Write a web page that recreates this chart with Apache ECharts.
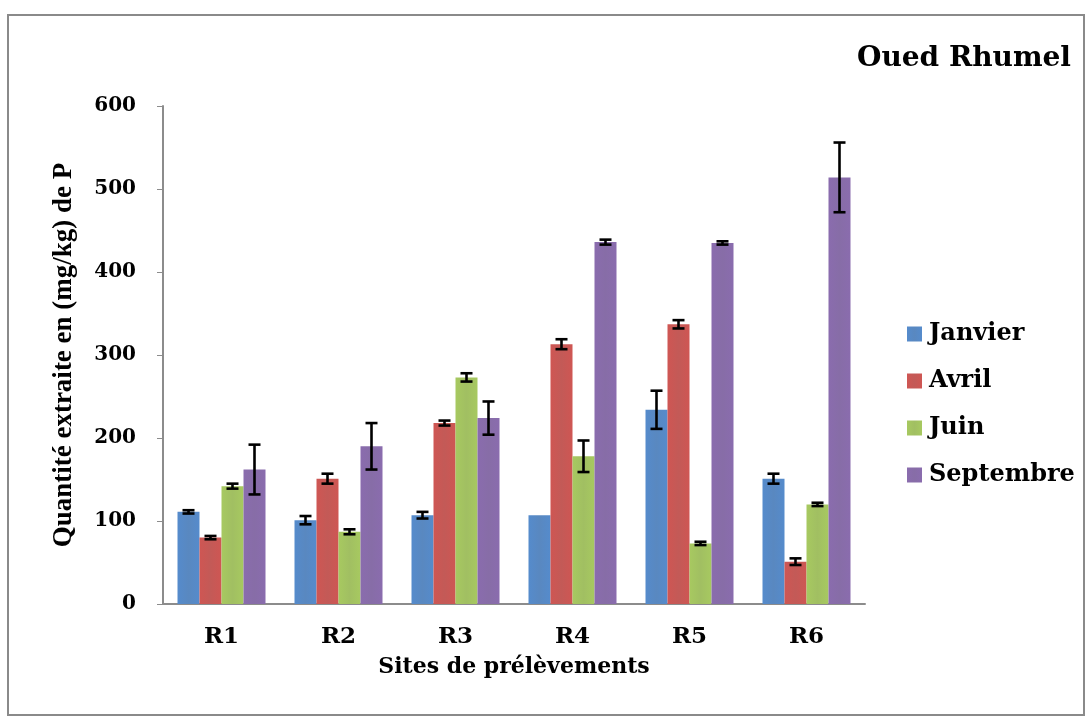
<!DOCTYPE html>
<html>
<head>
<meta charset="utf-8">
<script src="https://cdn.jsdelivr.net/npm/echarts@6/dist/echarts.min.js"></script>
<style>
  html, body { margin: 0; padding: 0; background: #ffffff; }
  #frame { position: absolute; left: 7px; top: 14px; width: 1078px; height: 702px;
           border: 2px solid #8a8a8a; box-sizing: border-box; background: #fff; }
  #chart { position: absolute; left: 0; top: 0; width: 1085px; height: 718px; }
</style>
</head>
<body>
<div id="frame"></div>
<div id="chart"></div>
<script>
// Sites and months
const categories = ['R1', 'R2', 'R3', 'R4', 'R5', 'R6'];
const seriesNames = ['Janvier', 'Avril', 'Juin', 'Septembre'];

// Extracted phosphorus (mg/kg) per site and month
const janvier   = [111, 101, 107, 107, 234, 151];
const avril     = [80, 151, 218, 313, 337, 51];
const juin      = [142, 87, 273, 178, 73, 120];
const septembre = [162, 190, 224, 436, 435, 514];

// Standard deviations
const janvierErr   = [2, 5, 4, 0, 23, 6];
const avrilErr     = [2, 6, 3, 6, 5, 4];
const juinErr      = [3, 3, 5, 19, 2, 2];
const septembreErr = [30, 28, 20, 3, 2, 42];

const yTicks = { min: 0, max: 600, interval: 100 };

const colors = ['#4F81BD', '#C0504D', '#9BBB59', '#8064A2'];
const values = [janvier, avril, juin, septembre];
const errors = [janvierErr, avrilErr, juinErr, septembreErr];

const BAR_W = 22;
const FONT = '"DejaVu Serif", "Liberation Serif", serif';
const FONT_NARROW = '"Liberation Serif", "DejaVu Serif", serif';

function shade(c) {
  return new echarts.graphic.LinearGradient(0, 0, 1, 0, [
    { offset: 0, color: echarts.color.lift(c, -0.08) },
    { offset: 0.5, color: echarts.color.lift(c, 0.06) },
    { offset: 1, color: echarts.color.lift(c, -0.08) }
  ]);
}

const barSeries = seriesNames.map((name, i) => ({
  name: name,
  type: 'bar',
  barWidth: BAR_W,
  barGap: '0%',
  itemStyle: { color: shade(colors[i]) },
  data: values[i],
  z: 2
}));

const errSeries = seriesNames.map((name, i) => ({
  type: 'custom',
  name: name + ' σ',
  z: 5,
  silent: true,
  data: values[i].map((v, k) => [k, v, errors[i][k]]),
  encode: { x: 0, y: 1 },
  renderItem: function (params, api) {
    const k = api.value(0), v = api.value(1), e = api.value(2);
    if (!e) return null;
    const top = api.coord([k, v + e]);
    const bot = api.coord([k, v - e]);
    const x = top[0] + (i - 1.5) * BAR_W;
    const cap = 6;
    const st = { stroke: '#000', lineWidth: 2.6 };
    return {
      type: 'group',
      children: [
        { type: 'line', shape: { x1: x, y1: top[1], x2: x, y2: bot[1] }, style: st },
        { type: 'line', shape: { x1: x - cap, y1: top[1], x2: x + cap, y2: top[1] }, style: st },
        { type: 'line', shape: { x1: x - cap, y1: bot[1], x2: x + cap, y2: bot[1] }, style: st }
      ]
    };
  }
}));

const chart = echarts.init(document.getElementById('chart'), null, { renderer: 'canvas' });
chart.setOption({
  animation: false,
  backgroundColor: 'transparent',
  title: {
    text: 'Oued Rhumel',
    right: 9,
    top: 40,
    textStyle: { fontFamily: FONT, fontWeight: 'bold', fontSize: 28, color: '#000' }
  },
  legend: {
    data: seriesNames,
    orient: 'vertical',
    left: 902,
    top: 317,
    itemWidth: 15,
    itemHeight: 15,
    itemGap: 23,
    icon: 'rect',
    textStyle: { fontFamily: FONT, fontWeight: 'bold', fontSize: 24, color: '#000', padding: [0, 0, 0, 2] }
  },
  grid: { left: 163, right: 220, top: 106, bottom: 114 },
  xAxis: {
    type: 'category',
    data: categories,
    name: 'Sites de prélèvements',
    nameLocation: 'middle',
    nameGap: 52,
    nameTextStyle: { fontFamily: FONT, fontWeight: 'bold', fontSize: 22, color: '#000' },
    axisLine: { lineStyle: { color: '#8c8c8c', width: 2 } },
    axisTick: { show: false },
    axisLabel: { fontFamily: FONT, fontWeight: 'bold', fontSize: 23, color: '#000', margin: 22 }
  },
  yAxis: {
    type: 'value',
    min: yTicks.min,
    max: yTicks.max,
    interval: yTicks.interval,
    name: 'Quantité extraite en (mg/kg) de P',
    nameLocation: 'middle',
    nameGap: 85,
    nameTextStyle: { fontFamily: FONT_NARROW, fontWeight: 'bold', fontSize: 27, color: '#000' },
    axisLine: { show: true, lineStyle: { color: '#8c8c8c', width: 2 } },
    axisTick: { show: true, length: 6, lineStyle: { color: '#8c8c8c' } },
    splitLine: { show: false },
    axisLabel: { fontFamily: FONT, fontWeight: 'bold', fontSize: 20, color: '#000', margin: 27 }
  },
  series: [...barSeries, ...errSeries]
});
</script>
</body>
</html>
